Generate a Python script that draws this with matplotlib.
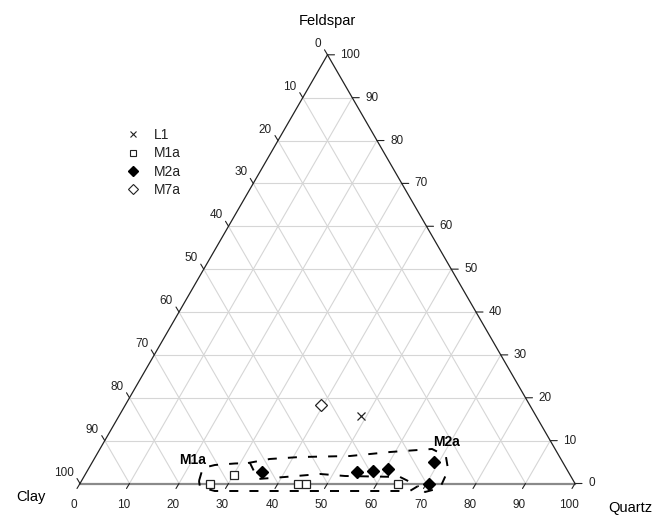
import numpy as np
import matplotlib
matplotlib.use("Agg")
import matplotlib.pyplot as plt
from matplotlib.lines import Line2D

plt.rcParams['font.family'] = ['Liberation Sans', 'DejaVu Sans']
plt.rcParams['lines.scale_dashes'] = False

# ---- data (Quartz %, Feldspar %) ; Clay = 100 - Q - F ----
L1_q = [49.0]
L1_f = [15.7]
M1a_q = [26.3, 30.2, 44.0, 45.6, 64.3]
M1a_f = [0.0, 2.0, 0.0, 0.0, 0.0]
M2a_q = [35.5, 54.7, 57.7, 60.6, 69.0, 70.6]
M2a_f = [2.6, 2.6, 2.9, 3.3, 4.9, 0.0]
M7a_q = [39.5]
M7a_f = [18.3]

# dashed grouping outlines (Quartz %, Feldspar %)
grpA_q = [23.75, 23.0, 25.1, 29.0, 31.95, 35.4, 40.65, 47.4, 52.7, 63.9, 68.6, 67.5, 45.3, 28.1, 24.65, 23.75]
grpA_f = [0.58, 3.62, 4.32, 4.67, 4.78, 1.05, 1.52, 2.22, 1.75, 1.52, -0.58, -1.75, -1.75, -1.75, -0.82, 0.58]
grpB_q = [31.55, 35.5, 41.35, 51.3, 59.0, 67.1, 70.7, 72.8, 73.25, 70.7, 68.6]
grpB_f = [4.78, 5.72, 6.18, 6.41, 7.35, 8.05, 6.41, 3.15, -1.05, -1.98, -0.58]

group_labels = ['M1a', 'M2a']
group_label_q = [19.9, 69.1]
group_label_f = [5.5, 9.7]

ticks = list(range(0, 101, 10))
axis_titles = ['Feldspar', 'Clay', 'Quartz']

H = np.sqrt(3) / 2


def tern(q, f):
    q = np.asarray(q, float) / 100.0
    f = np.asarray(f, float) / 100.0
    return q + 0.5 * f, H * f


fig = plt.figure(figsize=(6.64, 5.17), dpi=100)
ax = fig.add_axes([80 / 664, 33.5 / 517, 495 / 664, 428.7 / 517])
ax.set_xlim(0, 1)
ax.set_ylim(0, H)
ax.axis('off')

grid_c = '#d6d6d6'
for k in ticks[1:-1]:
    x, y = tern([0, 100 - k], [k, k])
    ax.plot(x, y, color=grid_c, lw=0.8, zorder=1, clip_on=False)
    x, y = tern([k, k], [0, 100 - k])
    ax.plot(x, y, color=grid_c, lw=0.8, zorder=1, clip_on=False)
    x, y = tern([100 - k, 0], [0, 100 - k])
    ax.plot(x, y, color=grid_c, lw=0.8, zorder=1, clip_on=False)

# triangle edges
x, y = tern([0, 100], [0, 0])
ax.plot(x, y, color='#8a8a8a', lw=1.6, zorder=2, clip_on=False)
x, y = tern([0, 0], [0, 100])
ax.plot(x, y, color='#222222', lw=0.9, zorder=2, clip_on=False)
x, y = tern([100, 0], [0, 100])
ax.plot(x, y, color='#222222', lw=0.9, zorder=2, clip_on=False)

# ticks and labels
tick_fs = 8.5
tcol = '#222222'
for k in ticks:
    x, y = tern([k], [0])
    ax.annotate('', xy=(x[0], y[0]), xytext=(-3, -5), textcoords='offset pixels',
                arrowprops=dict(arrowstyle='-', color=tcol, lw=0.8, shrinkA=0, shrinkB=0),
                annotation_clip=False)
    ax.annotate(str(k), xy=(x[0], y[0]), xytext=(-6, -21), textcoords='offset pixels',
                ha='center', va='center', fontsize=tick_fs, color=tcol, annotation_clip=False)
    x, y = tern([0], [100 - k])
    ax.annotate('', xy=(x[0], y[0]), xytext=(-3, 5), textcoords='offset pixels',
                arrowprops=dict(arrowstyle='-', color=tcol, lw=0.8, shrinkA=0, shrinkB=0),
                annotation_clip=False)
    ax.annotate(str(k), xy=(x[0], y[0]), xytext=(-6, 11), textcoords='offset pixels',
                ha='right', va='center', fontsize=tick_fs, color=tcol, annotation_clip=False)
    x, y = tern([100 - k], [k])
    ax.annotate('', xy=(x[0], y[0]), xytext=(7, 0), textcoords='offset pixels',
                arrowprops=dict(arrowstyle='-', color=tcol, lw=0.8, shrinkA=0, shrinkB=0),
                annotation_clip=False)
    ax.annotate(str(k), xy=(x[0], y[0]), xytext=(13, 0), textcoords='offset pixels',
                ha='left', va='center', fontsize=tick_fs, color=tcol, annotation_clip=False)

# axis titles
fig.text(327 / 664, 1 - 21 / 517, axis_titles[0], ha='center', va='center', fontsize=10.5)
fig.text(31 / 664, 1 - 497 / 517, axis_titles[1], ha='center', va='center', fontsize=10.5)
fig.text(630 / 664, 1 - 508 / 517, axis_titles[2], ha='center', va='center', fontsize=10.5)

# data points
x, y = tern(L1_q, L1_f)
ax.plot(x, y, 'x', color='#222222', ms=6, mew=0.9, ls='none', zorder=5, clip_on=False, label='L1')
x, y = tern(M1a_q, M1a_f)
ax.plot(x, y, 's', mfc='white', mec='#222222', ms=6, mew=0.9, ls='none', zorder=5, clip_on=False, label='M1a')
x, y = tern(M2a_q, M2a_f)
ax.plot(x, y, 'D', color='black', ms=6.5, ls='none', zorder=5, clip_on=False, label='M2a')
x, y = tern(M7a_q, M7a_f)
ax.plot(x, y, 'D', mfc='white', mec='#222222', ms=6.5, mew=0.9, ls='none', zorder=5, clip_on=False, label='M7a')

# dashed group outlines
x, y = tern(grpA_q, grpA_f)
ax.plot(x, y, color='black', lw=1.4, dashes=(6.5, 8), zorder=4, clip_on=False)
x, y = tern(grpB_q, grpB_f)
ax.plot(x, y, color='black', lw=1.4, dashes=(6.5, 8), zorder=4, clip_on=False)

for lab, q, f in zip(group_labels, group_label_q, group_label_f):
    x, y = tern([q], [f])
    ax.text(x[0], y[0], lab, ha='center', va='center', fontsize=10, fontweight='bold', clip_on=False)

handles = [
    Line2D([], [], marker='x', color='#222222', ms=5, mew=0.8, ls='none'),
    Line2D([], [], marker='s', mfc='white', mec='#222222', ms=5, mew=0.8, ls='none'),
    Line2D([], [], marker='D', color='black', ms=5, ls='none'),
    Line2D([], [], marker='D', mfc='white', mec='#222222', ms=5, mew=0.8, ls='none'),
]
fig.legend(handles, ['L1', 'M1a', 'M2a', 'M7a'], loc='upper left',
           bbox_to_anchor=(119 / 664, 1 - 121 / 517), frameon=False, fontsize=10,
           handlelength=1.0, handletextpad=1.0, labelspacing=0.32, borderpad=0,
           labelcolor='#222222')

fig.savefig('out.png', dpi=100)
